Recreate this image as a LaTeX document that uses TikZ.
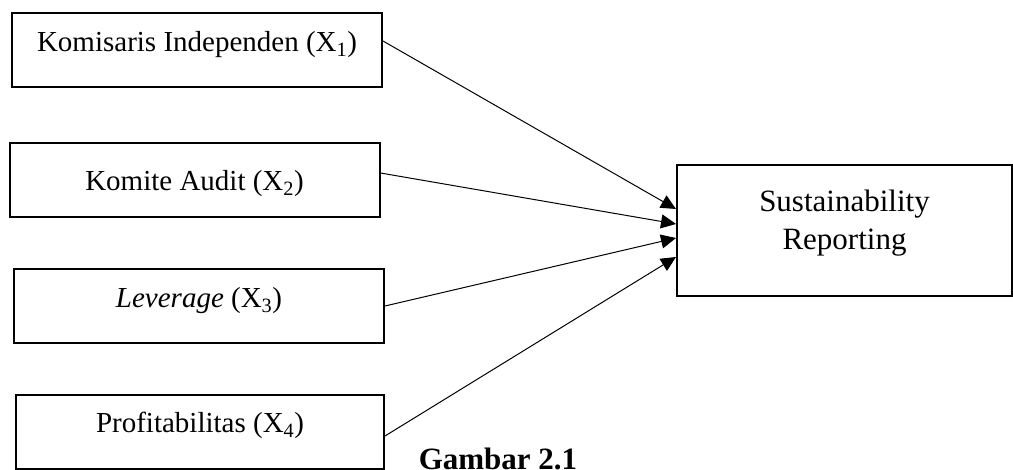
\documentclass[tikz,border=0pt]{standalone}
\usepackage{fontspec}
\setmainfont{Liberation Serif}
\usetikzlibrary{arrows.meta}
\tikzset{
  varbox/.style={draw=black,line width=2pt,minimum width=370pt,minimum height=74pt,inner sep=0pt,
    font=\fontsize{29}{34}\selectfont,text height=21pt,text depth=17pt},
  depbox/.style={draw=black,line width=2pt,minimum width=335pt,minimum height=131pt,inner sep=0pt,
    align=center,font=\fontsize{31}{38}\selectfont,text height=57pt,text depth=18pt},
  causeedge/.style={-{Triangle[length=15pt,width=14pt]},line width=1pt,black},
}

\begin{document}
\begin{tikzpicture}[x=1pt,y=1pt]
  \useasboundingbox (0,0) rectangle (1013,469);
  \clip (0,0) rectangle (1013,469);
  % ---- independent variables, one box per hypothesis ----
  \node[varbox] (KI) at (197,419) {Komisaris Independen (X\textsubscript{1})};
  \node[varbox,text depth=0pt] (KA) at (194.5,289) {Komite Audit (X\textsubscript{2})};
  \node[varbox] (LEV) at (199,163) {\textit{Leverage} (X\textsubscript{3})};
  \node[varbox,minimum width=368pt,text depth=19pt] (PROF) at (200,37) {Profitabilitas (X\textsubscript{4})};
  % ---- dependent variable ----
  \node[depbox] (SR) at (844.5,238.5) {Sustainability\\Reporting};
  \draw[causeedge] ([yshift=9]KI.east) -- ([yshift=21.5]SR.west);
  \draw[causeedge] ([yshift=7]KA.east) -- ([yshift=6.5]SR.west);
  \draw[causeedge] (LEV.east) -- ([yshift=-7.5]SR.west);
  \draw[causeedge] ([yshift=-4]PROF.east) -- ([yshift=-26.5]SR.west);
  \node[anchor=base,font=\bfseries\fontsize{31}{36}\selectfont] (cap) at (498,0) {Gambar 2.1};
\end{tikzpicture}
\end{document}
